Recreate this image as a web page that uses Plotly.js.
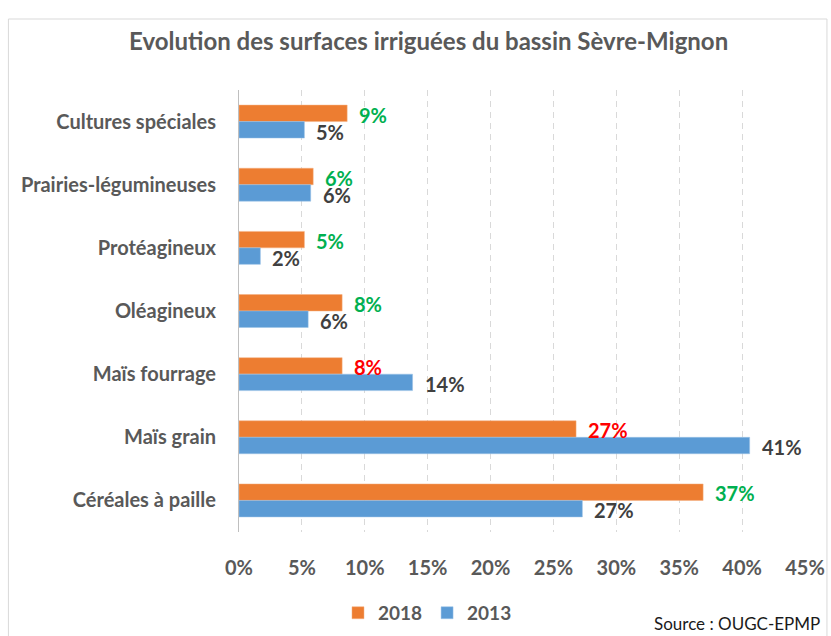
<!DOCTYPE html>
<html>
<head>
<meta charset="utf-8">
<script src="https://cdn.plot.ly/plotly-3.0.1.min.js"></script>
<style>html,body{margin:0;padding:0;background:#fff;}#chart{width:831px;height:636px;}</style>
</head>
<body>
<div id="chart"></div>
<script>
// Categories, top to bottom as shown
const categories = ["Cultures spéciales", "Prairies-légumineuses", "Protéagineux", "Oléagineux", "Maïs fourrage", "Maïs grain", "Céréales à paille"];
const values2018 = [8.6, 5.9, 5.2, 8.2, 8.2, 26.8, 36.9];
const values2013 = [5.2, 5.7, 1.7, 5.5, 13.8, 40.6, 27.3];
const labels2018 = ["9%", "6%", "5%", "8%", "8%", "27%", "37%"];
const labels2013 = ["5%", "6%", "2%", "6%", "14%", "41%", "27%"];
const labelColors2018 = ["#00B050", "#00B050", "#00B050", "#00B050", "#FF0000", "#FF0000", "#00B050"];
const xTickValues = [0, 5, 10, 15, 20, 25, 30, 35, 40, 45];
const xTickLabels = ["0%", "5%", "10%", "15%", "20%", "25%", "30%", "35%", "40%", "45%"];

const FONT = "Lato, 'Open Sans', sans-serif";
const GREY = "#595959";

const traces = [
  {type: "bar", orientation: "h", name: "2018", y: categories, x: values2018,
   marker: {color: "#ED7D31", line: {color: "#F4B183", width: 0.5}}, hoverinfo: "x+name"},
  {type: "bar", orientation: "h", name: "2013", y: categories, x: values2013,
   marker: {color: "#5B9BD5", line: {color: "#9DC3E6", width: 0.5}}, hoverinfo: "x+name"}
];

const annotations = [];
categories.forEach((c, i) => {
  annotations.push({x: values2018[i], y: c, xref: "x", yref: "y", text: labels2018[i],
    showarrow: false, xanchor: "left", yanchor: "middle", xshift: 10, yshift: 7,
    font: {family: FONT, size: 20, weight: "bold", color: labelColors2018[i]}});
  annotations.push({x: values2013[i], y: c, xref: "x", yref: "y", text: labels2013[i],
    showarrow: false, xanchor: "left", yanchor: "middle", xshift: 10, yshift: -10,
    font: {family: FONT, size: 20, weight: "bold", color: "#404040"}});
});
annotations.push({xref: "paper", yref: "paper", x: 1.03, y: -0.207, xanchor: "right", yanchor: "middle",
  text: "Source : OUGC-EPMP", showarrow: false, font: {family: FONT, size: 17, color: "#1a1a1a"}});

const layout = {
  width: 831, height: 636,
  margin: {l: 239, r: 26, t: 90, b: 104, autoexpand: false},
  paper_bgcolor: "#fff", plot_bgcolor: "#fff",
  font: {family: FONT, color: GREY},
  title: {text: "Evolution des surfaces irriguées du bassin Sèvre-Mignon",
    xref: "paper", x: 0.335, xanchor: "center", yref: "container", y: 0.934, yanchor: "middle",
    font: {family: FONT, size: 24, weight: "bold", color: GREY}},
  barmode: "group", bargap: 0.478, bargroupgap: 0,
  xaxis: {range: [0, 45], tickvals: xTickValues, ticktext: xTickLabels, automargin: false,
    showgrid: true, gridcolor: "#d9d9d9", griddash: "6px,5px", gridwidth: 1,
    zeroline: false, showline: false, ticks: "outside", ticklen: 18, tickcolor: "rgba(0,0,0,0)",
    tickfont: {family: FONT, size: 20, weight: "bold", color: GREY}, fixedrange: true},
  yaxis: {type: "category", autorange: "reversed", showline: true, linecolor: "#bfbfbf", linewidth: 1,
    automargin: false, showgrid: false, zeroline: false, ticks: "outside", ticklen: 18, tickcolor: "rgba(0,0,0,0)",
    tickfont: {family: FONT, size: 20, weight: "bold", color: GREY}, fixedrange: true},
  legend: {orientation: "h", x: 0.333, xanchor: "center", y: -0.183, yanchor: "middle",
    font: {family: FONT, size: 19, weight: "bold", color: GREY}, itemwidth: 30},
  annotations: annotations,
  shapes: [{type: "rect", xref: "paper", yref: "paper", x0: -0.4074, x1: 1.0388, y0: -0.3, y1: 1.1606,
    line: {color: "#d9d9d9", width: 1}, fillcolor: "rgba(0,0,0,0)", layer: "below"}],
  showlegend: true
};

Plotly.newPlot("chart", traces, layout, {displayModeBar: false, staticPlot: true});
</script>
</body>
</html>
